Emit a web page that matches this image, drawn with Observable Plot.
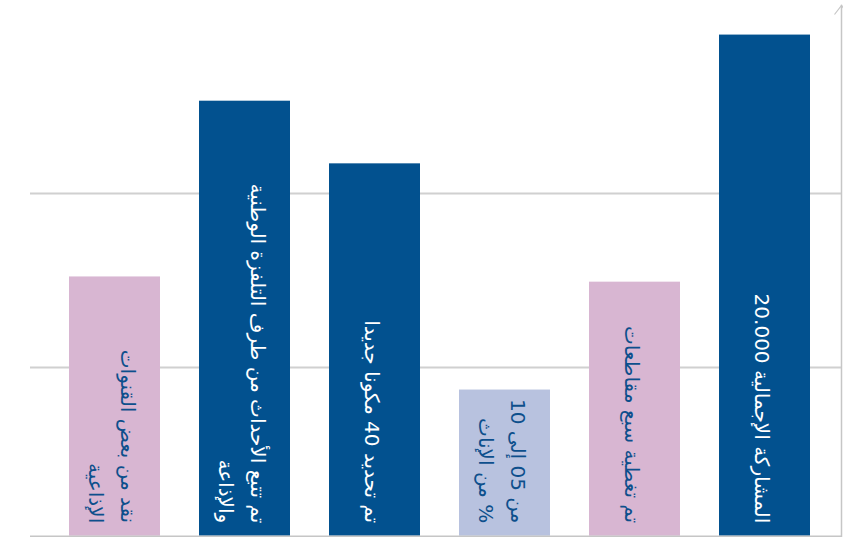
<!DOCTYPE html>
<html>
<head>
<meta charset="utf-8">
<script src="https://cdn.jsdelivr.net/npm/d3@7"></script>
<script src="https://cdn.jsdelivr.net/npm/@observablehq/plot@0.6"></script>
<style>
  body { margin: 0; background: #ffffff; }
  #chart svg { display: block; }
</style>
</head>
<body>
<div id="chart"></div>
<script>
// ---- data ----
const categories = ["c1", "c2", "c3", "c4", "c5", "c6"];
const values = [1.49, 2.50, 2.14, 0.84, 1.46, 2.88];
const groups = ["g1", "g2", "g2", "g3", "g1", "g2"];
const labels = [
  "نقد من بعض القنوات\nالإذاعية",
  "تم تتبع الأحداث من طرف التلفزة الوطنية\nوالإذاعة",
  "تم تحديد 40 مكونا جديدا",
  "من 05 إلى 10\n\u200F% من الإناث",
  "تم تغطية سبع مقاطعات",
  "المشاركة الإجمالية 20.000"
];
const gridTicks = [0.97, 1.97];

const data = categories.map((c, i) => ({
  category: c, value: values[i], group: groups[i], label: labels[i]
}));

const axisColor = "#c6c6c6";

const chart = Plot.plot({
  width: 843,
  height: 539,
  marginLeft: 30,
  marginRight: 2,
  marginTop: 5,
  marginBottom: 3.3,
  x: { domain: categories, range: [48.4, 830.8], paddingInner: 0.3, paddingOuter: 0.15, axis: null },
  y: { domain: [0, 3], range: [535.7, 13.7], axis: null },
  color: { type: "ordinal", domain: ["g1", "g2", "g3"], range: ["#d8b6d2", "#02518f", "#b8c2df"] },
  style: { fontFamily: "DejaVu Sans", background: "#ffffff" },
  marks: [
    Plot.ruleY(gridTicks, { stroke: "#d0d0d0", strokeWidth: 2 }),
    Plot.barY(data, { x: "category", y: "value", fill: "group" }),
    Plot.ruleY([0], { stroke: axisColor, strokeWidth: 1.5, ariaLabel: "x-axis-line" }),
    Plot.frame({ anchor: "right", stroke: axisColor, strokeWidth: 1.5, ariaLabel: "y-axis-line" }),
    Plot.text(data.filter(d => d.group === "g2"), {
      x: "category", y: 0, text: "label", rotate: 90, textAnchor: "end",
      lineAnchor: "middle", dy: -13, fontSize: 20, lineHeight: 1.58, fill: "#ffffff"
    }),
    Plot.text(data.filter(d => d.group !== "g2"), {
      x: "category", y: 0, text: "label", rotate: 90, textAnchor: "end",
      lineAnchor: "middle", dy: -13, fontSize: 20, lineHeight: 1.58, fill: "#0d4f8c"
    })
  ]
});

// arrowheads on the axis lines
const svg = d3.select(chart);
const defs = svg.append("defs");
defs.append("marker")
  .attr("id", "ax-arrow")
  .attr("viewBox", "-12 -12 24 24")
  .attr("markerWidth", 24).attr("markerHeight", 24)
  .attr("markerUnits", "userSpaceOnUse")
  .attr("orient", "auto-start-reverse")
  .attr("refX", 0).attr("refY", 0)
  .append("path")
  .attr("d", "M-9,-7L0,0L-9,7")
  .attr("fill", "none").attr("stroke", axisColor).attr("stroke-width", 1.2);
svg.selectAll('g[aria-label="x-axis-line"] line').attr("marker-start", "url(#ax-arrow)").attr("x2", 843);
svg.selectAll('g[aria-label="y-axis-line"] line, [aria-label="y-axis-line"]').filter(function() { return this.tagName === "line"; })
  .attr("marker-start", "url(#ax-arrow)");

document.getElementById("chart").append(chart);
</script>
</body>
</html>
